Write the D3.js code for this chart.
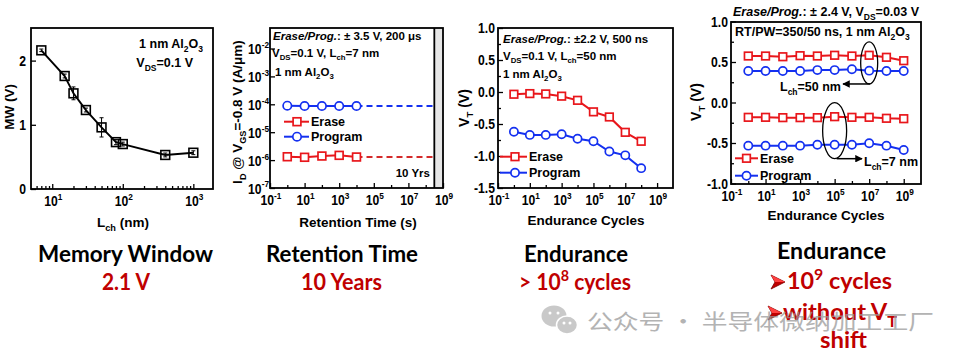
<!DOCTYPE html>
<html><head><meta charset="utf-8">
<script src="https://cdn.jsdelivr.net/npm/d3@7"></script>
<style>
body{margin:0;background:#fff}
svg{display:block}
text{font-family:"Liberation Sans",Arial,sans-serif;font-weight:bold}
</style>
</head><body><svg id="c" width="964" height="362"></svg>
<script>
// ---------------- data ----------------
const p1Lch = [7, 15, 20, 30, 50, 80, 100, 400, 1000];
const p1MW = [2.16, 1.76, 1.49, 1.23, 0.96, 0.73, 0.70, 0.53, 0.565];
const p1Err = [0.02, 0.03, 0.10, 0.03, 0.15, 0.04, 0.03, 0.03, 0.03];

const p2Time = [1, 10, 100, 1000, 10000];
const p2Erase = [1.32e-6, 1.26e-6, 1.40e-6, 1.48e-6, 1.29e-6];
const p2Program = [8.9e-5, 8.7e-5, 8.7e-5, 8.7e-5, 8.7e-5];
const p2TenYears = 3.15e8;

const p3Cycles = [1, 10, 1e2, 1e3, 1e4, 1e5, 1e6, 1e7, 1e8];
const p3Erase = [-0.035, -0.025, -0.03, -0.065, -0.13, -0.31, -0.39, -0.63, -0.77];
const p3Program = [-0.62, -0.67, -0.67, -0.66, -0.73, -0.77, -0.93, -0.99, -1.19];

const p4Cycles = [1, 10, 1e2, 1e3, 1e4, 1e5, 1e6, 1e7, 1e8, 1e9];
const p4Erase50 = [0.574, 0.574, 0.565, 0.578, 0.574, 0.583, 0.574, 0.583, 0.558, 0.516];
const p4Program50 = [0.389, 0.389, 0.389, 0.389, 0.40, 0.40, 0.41, 0.393, 0.389, 0.389];
const p4Erase7 = [-0.183, -0.183, -0.187, -0.187, -0.187, -0.175, -0.183, -0.183, -0.195, -0.20];
const p4Program7 = [-0.533, -0.533, -0.533, -0.533, -0.521, -0.521, -0.521, -0.504, -0.533, -0.586];

const logTicksLabeled = [0.1, 10, 1e3, 1e5, 1e7, 1e9];
const logTicksMinor = [1, 100, 1e4, 1e6, 1e8];
const p1XTicks = [10, 100, 1000];
const p1YTicks = [0, 1, 2];
const p2YTicks = [1e-7, 1e-6, 1e-5, 1e-4, 1e-3, 1e-2];
const p3YTicks = [-1.5, -1.0, -0.5, 0.0, 0.5, 1.0];
const p4YTicks = [-1.0, -0.5, 0.0, 0.5, 1.0];

// ---------------- helpers ----------------
const RED = '#e8161b', BLUE = '#1430f0', DRED = '#c00000';
const TICK_FS = 14.5, TICK_SX = 0.84;
const svg = d3.select('#c');
svg.append('rect').attr('width', 964).attr('height', 362).attr('fill', '#fff');

function rich(g, x, y, segs, o = {}) {
  const fs = o.size || 12;
  const t = g.append('text').attr('x', x).attr('y', y).attr('font-size', fs)
    .attr('text-anchor', o.anchor || 'start').attr('fill', o.fill || '#000');
  if (o.transform) t.attr('transform', o.transform);
  if (o.family) t.style('font-family', o.family);
  if (o.weight) t.style('font-weight', o.weight);
  if (o.len) t.attr('textLength', o.len).attr('lengthAdjust', 'spacingAndGlyphs');
  let cur = 0;
  segs.forEach(s => {
    const [str, k] = typeof s === 'string' ? [s, 'n'] : s;
    const target = k === 'sub' ? fs * 0.3 : k === 'sup' ? -fs * 0.42 : 0;
    const ts = t.append('tspan').text(str).attr('dy', target - cur);
    cur = target;
    if (k === 'sub' || k === 'sup') ts.attr('font-size', fs * 0.68);
    if (k === 'i') ts.attr('font-style', 'italic');
  });
  return t;
}
function expStr(v) { return String(Math.round(Math.log10(v))); }
function logLabel(g, px, py, v, anchor) {
  const gg = g.append('g').attr('transform', `translate(${px},${py}) scale(${TICK_SX},1)`);
  rich(gg, 0, 0, ['10', [expStr(v), 'sup']], { size: TICK_FS, anchor: anchor || 'middle' });
}
function numLabel(g, px, py, s) {
  const gg = g.append('g').attr('transform', `translate(${px},${py}) scale(${TICK_SX},1)`);
  gg.append('text').attr('text-anchor', 'end').attr('font-size', TICK_FS).text(s);
}
function drawAxes(g, x, y, X0, X1, Y0, Y1, xMaj, xMin, yMaj, yMin) {
  const a1 = g.append('g').attr('transform', `translate(0,${Y1})`)
    .call(d3.axisBottom(x).tickValues(xMaj).tickSize(-5).tickFormat(''));
  const a2 = g.append('g').attr('transform', `translate(0,${Y1})`)
    .call(d3.axisBottom(x).tickValues(xMin).tickSize(-3).tickFormat(''));
  const a3 = g.append('g').attr('transform', `translate(${X0},0)`)
    .call(d3.axisLeft(y).tickValues(yMaj).tickSize(-5).tickFormat(''));
  const a4 = g.append('g').attr('transform', `translate(${X0},0)`)
    .call(d3.axisLeft(y).tickValues(yMin).tickSize(-3).tickFormat(''));
  [a1, a2, a3, a4].forEach(a => { a.select('.domain').remove(); a.selectAll('line').attr('stroke', '#000').attr('stroke-width', 1.3); });
  g.append('rect').attr('x', X0).attr('y', Y0).attr('width', X1 - X0).attr('height', Y1 - Y0)
    .attr('fill', 'none').attr('stroke', '#000').attr('stroke-width', 1.8);
}
function marks(g, pts, color, shape, sz) {
  pts.forEach(p => {
    if (shape === 'sq') g.append('rect').attr('x', p[0] - sz / 2).attr('y', p[1] - sz / 2).attr('width', sz).attr('height', sz)
      .attr('fill', '#fff').attr('stroke', color).attr('stroke-width', 1.7);
    else g.append('circle').attr('cx', p[0]).attr('cy', p[1]).attr('r', sz / 2)
      .attr('fill', '#fff').attr('stroke', color).attr('stroke-width', 1.7);
  });
}
function series(g, x, y, xs, ys, color, shape, sz) {
  const pts = xs.map((d, i) => [x(d), y(ys[i])]);
  g.append('path').attr('d', d3.line()(pts)).attr('fill', 'none').attr('stroke', color).attr('stroke-width', 2);
  marks(g, pts, color, shape, sz);
}
function legend(g, x0, x1, xm, yy, color, shape, sz, label) {
  g.append('line').attr('x1', x0).attr('x2', x1).attr('y1', yy).attr('y2', yy).attr('stroke', color).attr('stroke-width', 2);
  marks(g, [[xm, yy]], color, shape, sz);
  g.append('text').attr('x', x1 + 2).attr('y', yy + 4.6).attr('font-size', 12.5).text(label);
}

// ---------------- Panel 1 ----------------
{
  const g = svg.append('g');
  const X0 = 31, X1 = 213, Y0 = 28, Y1 = 189;
  const x = d3.scaleLog().domain([5, 1900]).range([X0, X1]);
  const y = d3.scaleLinear().domain([0, 2.5]).range([Y1, 28.5]);
  const minor = [];
  [1, 10, 100, 1000].forEach(d => { for (let m = 2; m <= 9; m++) { const v = m * d; if (v > 5 && v < 1900) minor.push(v); } });
  drawAxes(g, x, y, X0, X1, Y0, Y1, p1XTicks, minor, p1YTicks, []);
  p1XTicks.forEach(v => logLabel(g, x(v) + 1, Y1 + 17, v));
  p1YTicks.forEach(v => numLabel(g, X0 - 5, y(v) + 5, String(v)));
  p1Lch.forEach((d, i) => {
    const cx = x(d), ya = y(p1MW[i] + p1Err[i]), yb = y(p1MW[i] - p1Err[i]);
    g.append('line').attr('x1', cx).attr('x2', cx).attr('y1', ya).attr('y2', yb).attr('stroke', '#000').attr('stroke-width', 1);
    [ya, yb].forEach(yy => g.append('line').attr('x1', cx - 2).attr('x2', cx + 2).attr('y1', yy).attr('y2', yy).attr('stroke', '#000').attr('stroke-width', 1));
  });
  const pts = p1Lch.map((d, i) => [x(d), y(p1MW[i])]);
  g.append('path').attr('d', d3.line()(pts)).attr('fill', 'none').attr('stroke', '#000').attr('stroke-width', 1.9);
  pts.forEach(p => g.append('rect').attr('x', p[0] - 4.4).attr('y', p[1] - 4.4).attr('width', 8.8).attr('height', 8.8)
    .attr('fill', 'none').attr('stroke', '#000').attr('stroke-width', 1.6));
  rich(g, 203, 48, ['1 nm Al', ['2', 'sub'], 'O', ['3', 'sub']], { size: 12.5, anchor: 'end' });
  rich(g, 193, 67, ['V', ['DS', 'sub'], '=0.1 V'], { size: 12.5, anchor: 'end' });
  rich(g, 123, 227, ['L', ['ch', 'sub'], ' (nm)'], { size: 13.5, anchor: 'middle' });
  rich(g, 14, 107, ['MW (V)'], { size: 13.5, anchor: 'middle', transform: 'rotate(-90,14,107)' });
}

// ---------------- Panel 2 ----------------
{
  const g = svg.append('g');
  const X0 = 270, X1 = 443, Y0 = 28, Y1 = 188;
  const x = d3.scaleLog().domain([0.1, 1e9]).range([X0, X1]);
  const y = d3.scaleLog().domain([1e-7, 0.0543]).range([Y1, Y0]);
  g.append('rect').attr('x', x(p2TenYears)).attr('y', Y0).attr('width', X1 - x(p2TenYears)).attr('height', Y1 - Y0).attr('fill', '#e6e6e6');
  drawAxes(g, x, y, X0, X1, Y0, Y1, logTicksLabeled, logTicksMinor, p2YTicks, []);
  g.append('line').attr('x1', x(p2TenYears)).attr('x2', x(p2TenYears)).attr('y1', Y0).attr('y2', Y1).attr('stroke', '#000').attr('stroke-width', 1.8);
  logTicksLabeled.forEach(v => logLabel(g, x(v) + 1, Y1 + 17, v));
  p2YTicks.forEach(v => logLabel(g, X0 - 1, y(v) + 5.5, v, 'end'));
  const last = p2Time.length - 1;
  g.append('line').attr('x1', x(p2Time[last])).attr('x2', x(p2TenYears)).attr('y1', y(p2Program[last])).attr('y2', y(p2Program[last]))
    .attr('stroke', BLUE).attr('stroke-width', 2).attr('stroke-dasharray', '6,4');
  g.append('line').attr('x1', x(p2Time[last])).attr('x2', x(p2TenYears)).attr('y1', y(p2Erase[last])).attr('y2', y(p2Erase[last]))
    .attr('stroke', '#d42a2a').attr('stroke-width', 2).attr('stroke-dasharray', '6,4');
  series(g, x, y, p2Time, p2Program, BLUE, 'ci', 8.4);
  series(g, x, y, p2Time, p2Erase, RED, 'sq', 7.8);
  legend(g, 284, 309, 297, 121.7, RED, 'sq', 7.8, 'Erase');
  legend(g, 284, 309, 297, 136.7, BLUE, 'ci', 8.4, 'Program');
  rich(g, 273, 40, [['Erase/Prog.', 'i'], ': ± 3.5 V, 200 μs'], { size: 11.5 });
  rich(g, 272, 57, ['V', ['DS', 'sub'], '=0.1 V, L', ['ch', 'sub'], '=7 nm'], { size: 11.5 });
  rich(g, 275, 76, ['1 nm Al', ['2', 'sub'], 'O', ['3', 'sub']], { size: 11.5 });
  g.append('text').attr('x', 430).attr('y', 177).attr('text-anchor', 'end').attr('font-size', 11.5).text('10 Yrs');
  rich(g, 358, 227, ['Retention Time (s)'], { size: 13.5, anchor: 'middle' });
  rich(g, 242, 112, ['I', ['D', 'sub'], ' @ V', ['GS', 'sub'], '=-0.8 V (A/μm)'], { size: 13.5, anchor: 'middle', transform: 'rotate(-90,242,112)' });
}

// ---------------- Panel 3 ----------------
{
  const g = svg.append('g');
  const X0 = 498, X1 = 673, Y0 = 28, Y1 = 188;
  const x = d3.scaleLog().domain([0.1, 1e10]).range([X0, X1]);
  const y = d3.scaleLinear().domain([-1.5, 1]).range([Y1, Y0]);
  drawAxes(g, x, y, X0, X1, Y0, Y1, logTicksLabeled, logTicksMinor, p3YTicks, [-1.25, -0.75, -0.25, 0.25, 0.75]);
  logTicksLabeled.forEach(v => logLabel(g, x(v) + 1, Y1 + 17, v));
  p3YTicks.forEach(v => numLabel(g, X0 - 3, y(v) + 5, v.toFixed(1)));
  series(g, x, y, p3Cycles, p3Erase, RED, 'sq', 7.6);
  series(g, x, y, p3Cycles, p3Program, BLUE, 'ci', 8.2);
  legend(g, 500, 527, 515, 156.7, RED, 'sq', 7.6, 'Erase');
  legend(g, 500, 527, 515, 172.7, BLUE, 'ci', 8.2, 'Program');
  rich(g, 503, 43, [['Erase/Prog.', 'i'], ': ±2.2 V, 500 ns'], { size: 11.5 });
  rich(g, 503, 60, ['V', ['DS', 'sub'], '=0.1 V, L', ['ch', 'sub'], '=50 nm'], { size: 11.5 });
  rich(g, 503, 78, ['1 nm Al', ['2', 'sub'], 'O', ['3', 'sub']], { size: 11.5 });
  rich(g, 586, 225, ['Endurance Cycles'], { size: 13.5, anchor: 'middle' });
  rich(g, 469, 108, ['V', ['T', 'sub'], ' (V)'], { size: 14, anchor: 'middle', transform: 'rotate(-90,469,108)' });
}

// ---------------- Panel 4 ----------------
{
  const g = svg.append('g');
  const X0 = 731, X1 = 921, Y0 = 22, Y1 = 184;
  const x = d3.scaleLog().domain([0.1, 1e10]).range([X0, X1]);
  const y = d3.scaleLinear().domain([-1, 1]).range([183.5, 21.5]);
  drawAxes(g, x, y, X0, X1, Y0, Y1, logTicksLabeled, logTicksMinor, p4YTicks, [-0.75, -0.25, 0.25, 0.75]);
  logTicksLabeled.forEach(v => logLabel(g, x(v) + 1, Y1 + 17, v));
  p4YTicks.forEach(v => numLabel(g, X0 - 3, y(v) + 5, v.toFixed(1)));
  series(g, x, y, p4Cycles, p4Erase50, RED, 'sq', 7.6);
  series(g, x, y, p4Cycles, p4Program50, BLUE, 'ci', 8.2);
  series(g, x, y, p4Cycles, p4Erase7, RED, 'sq', 7.6);
  series(g, x, y, p4Cycles, p4Program7, BLUE, 'ci', 8.2);
  legend(g, 735, 758, 746.5, 158.3, RED, 'sq', 7.6, 'Erase');
  legend(g, 735, 758, 746.5, 175.7, BLUE, 'ci', 8.2, 'Program');
  const defs = svg.append('defs');
  defs.append('marker').attr('id', 'ah').attr('viewBox', '0 0 10 10').attr('refX', 9).attr('refY', 5)
    .attr('markerWidth', 5).attr('markerHeight', 5).attr('orient', 'auto-start-reverse')
    .append('path').attr('d', 'M0,0 L10,5 L0,10 z').attr('fill', '#000');
  const e1x = x(1e7), e1y = (y(p4Erase50[7]) + y(p4Program50[7])) / 2;
  g.append('ellipse').attr('cx', e1x).attr('cy', e1y).attr('rx', 8.5).attr('ry', 21).attr('fill', 'none').attr('stroke', '#000').attr('stroke-width', 1.3);
  g.append('line').attr('x1', e1x + 1).attr('x2', 843).attr('y1', e1y + 21).attr('y2', e1y + 21).attr('stroke', '#000').attr('stroke-width', 1.5).attr('marker-end', 'url(#ah)');
  rich(g, 780, 91, ['L', ['ch', 'sub'], '=50 nm'], { size: 12.5 });
  const e2x = x(1e5), e2y = (y(p4Erase7[5]) + y(p4Program7[5])) / 2;
  g.append('ellipse').attr('cx', e2x).attr('cy', e2y).attr('rx', 12).attr('ry', 28).attr('fill', 'none').attr('stroke', '#000').attr('stroke-width', 1.3);
  g.append('line').attr('x1', e2x + 2).attr('x2', 862).attr('y1', e2y + 28).attr('y2', e2y + 28).attr('stroke', '#000').attr('stroke-width', 1.5).attr('marker-end', 'url(#ah)');
  rich(g, 864, 166, ['L', ['ch', 'sub'], '=7 nm'], { size: 12.5 });
  rich(g, 733, 16, [['Erase/Prog.', 'i'], ': ± 2.4 V, V', ['DS', 'sub'], '=0.03 V'], { size: 12.5 });
  rich(g, 735, 36, ['RT/PW=350/50 ns, 1 nm Al', ['2', 'sub'], 'O', ['3', 'sub']], { size: 12.5 });
  rich(g, 826, 220, ['Endurance Cycles'], { size: 13.5, anchor: 'middle' });
  rich(g, 701, 102, ['V', ['T', 'sub'], ' (V)'], { size: 14, anchor: 'middle', transform: 'rotate(-90,701,102)' });
}

// ---------------- bottom captions ----------------
{
  const g = svg.append('g');
  const F = 'Lato, "Open Sans", sans-serif';
  rich(g, 125.5, 262, ['Memory Window'], { size: 22, anchor: 'middle', family: F, len: 175 });
  rich(g, 126, 290, ['2.1 V'], { size: 22, anchor: 'middle', family: F, fill: DRED, len: 48 });
  rich(g, 342, 262, ['Retention Time'], { size: 22, anchor: 'middle', family: F, len: 152 });
  rich(g, 341.5, 290, ['10 Years'], { size: 22, anchor: 'middle', family: F, fill: DRED, len: 81 });
  rich(g, 576, 262, ['Endurance'], { size: 22, anchor: 'middle', family: F, len: 104 });
  rich(g, 575, 290, ['> 10', ['8', 'sup'], ' cycles'], { size: 22, anchor: 'middle', family: F, fill: DRED, len: 112 });
  rich(g, 831.5, 259, ['Endurance'], { size: 22, anchor: 'middle', family: F, len: 109 });
  rich(g, 787, 289, ['10', ['9', 'sup'], ' cycles'], { size: 22, family: F, fill: DRED, len: 105 });
  rich(g, 783, 320, ['without V', ['T', 'sub']], { size: 22, family: F, fill: DRED, len: 114 });
  rich(g, 843.5, 348, ['shift'], { size: 22, anchor: 'middle', family: F, fill: DRED, len: 47 });
  [[771, 282], [768, 313]].forEach(([bx, by]) => {
    g.append('path').attr('d', `M${bx},${by - 7} L${bx + 14},${by} L${bx},${by + 7} L${bx + 4},${by} Z`)
      .attr('fill', DRED).attr('stroke', '#7a0000').attr('stroke-width', 0.8);
    g.append('path').attr('d', `M${bx},${by - 7} L${bx + 14},${by} L${bx + 4},${by} Z`).attr('fill', '#ff4040');
  });
  const w = svg.append('g').attr('opacity', 0.75);
  w.append('ellipse').attr('cx', 554).attr('cy', 316).attr('rx', 12.5).attr('ry', 10.5).attr('fill', '#b8b8b8');
  w.append('ellipse').attr('cx', 567).attr('cy', 325).attr('rx', 10.5).attr('ry', 9).attr('fill', '#b8b8b8').attr('stroke', '#fff').attr('stroke-width', 1.5);
  [[550, 313], [558, 313], [564, 323], [570, 323]].forEach(([a, b]) => w.append('circle').attr('cx', a).attr('cy', b).attr('r', 1.5).attr('fill', '#fff'));
  w.append('text').attr('x', 587).attr('y', 329).attr('font-size', 21).style('font-family', '"Noto Sans CJK SC", sans-serif')
    .style('font-weight', 'normal').attr('fill', '#9a9a9a').attr('textLength', 347).attr('lengthAdjust', 'spacingAndGlyphs')
    .text('公众号 · 半导体微纳加工工厂');
}
</script>
</body></html>
